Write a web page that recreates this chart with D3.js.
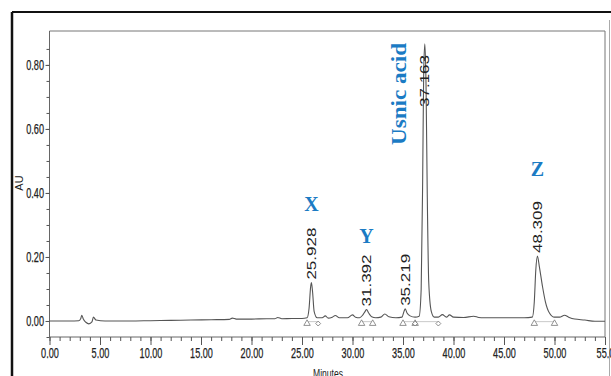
<!DOCTYPE html>
<html>
<head>
<meta charset="utf-8">
<script src="https://cdn.jsdelivr.net/npm/d3@7"></script>
<style>
  body { margin: 0; background: #fff; }
  .tick text { font-family: "Liberation Sans", Arial, sans-serif; font-size: 14px; fill: #222; stroke: #222; stroke-width: 0.25px; }
  .domain { stroke: #666; }
</style>
</head>
<body>
<div class="chart"></div>
<script>
var svgWidth = 611;
var svgHeight = 376;

// chromatogram trace (minutes, AU)
var times = [0, 1, 2, 2.9, 3.1, 3.2, 3.35, 3.6, 3.9, 4.2, 4.35, 4.6, 5.5, 8, 10, 12, 14, 16,
  17.8, 18.1, 18.5, 20, 21.5, 22.3, 22.6, 23, 24, 25, 25.5, 25.7, 25.85, 25.93, 26.05, 26.2,
  26.5, 27, 27.3, 27.6, 28, 28.3, 28.7, 29.5, 30.0, 30.3, 30.7, 31.0, 31.25, 31.39, 31.6, 31.9,
  32.3, 32.8, 33.2, 33.6, 34.3, 34.9, 35.1, 35.22, 35.4, 35.7, 36.2, 36.6, 36.8, 36.95, 37.05,
  37.163, 37.28, 37.4, 37.55, 37.8, 38.1, 38.5, 38.9, 39.3, 39.6, 40, 41, 42, 42.5, 43, 45, 47,
  47.8, 48.0, 48.15, 48.309, 48.5, 48.8, 49.1, 49.5, 50, 50.5, 51, 51.4, 52, 53, 54, 55];
var au = [0.000, 0.000, 0.000, 0.001, 0.008, 0.018, 0.006, -0.004, -0.009, -0.003, 0.012, 0.003, 0.000, 0.000, 0.001, 0.002, 0.003, 0.004,
  0.005, 0.009, 0.006, 0.006, 0.007, 0.007, 0.011, 0.007, 0.008, 0.008, 0.010, 0.040, 0.105, 0.120, 0.090, 0.030,
  0.010, 0.010, 0.016, 0.009, 0.012, 0.017, 0.010, 0.010, 0.019, 0.012, 0.010, 0.018, 0.030, 0.036, 0.025, 0.013,
  0.010, 0.012, 0.022, 0.013, 0.010, 0.012, 0.030, 0.038, 0.025, 0.016, 0.012, 0.015, 0.100, 0.450, 0.780,
  0.866, 0.740, 0.400, 0.120, 0.030, 0.012, 0.012, 0.020, 0.012, 0.019, 0.012, 0.011, 0.015, 0.011, 0.010, 0.010, 0.010,
  0.012, 0.060, 0.160, 0.203, 0.170, 0.110, 0.060, 0.025, 0.012, 0.012, 0.018, 0.012, 0.006, 0.003, -0.001, -0.001];

// retention-time labels
var peakTimes = [25.928, 31.392, 35.219, 37.163, 48.309];
var peakHeights = [0.120, 0.036, 0.038, 0.866, 0.203];
var peakLabels = ["25.928", "31.392", "35.219", "37.163", "48.309"];

// compound names
var compoundNames = ["X", "Y", "Usnic acid", "Z"];
var compoundTimes = [25.928, 31.392, 37.163, 48.309];

// integration marks
var triangleTimes = [25.5, 30.9, 32.0, 35.0, 36.2, 48.0, 50.0];
var diamondTimes = [26.6, 36.2, 38.5];
var baselinePairs = [[25.5, 26.6], [30.9, 32.0], [35.0, 36.2], [36.2, 38.5], [48.0, 50.0]];

var xTicks = [0, 5, 10, 15, 20, 25, 30, 35, 40, 45, 50, 55];
var yTicks = [0, 0.2, 0.4, 0.6, 0.8];

var plotL = 49.5, plotR = 605, plotT = 31, plotB = 337;

// narrow look for the instrument's condensed font
function narrowLen(s) {
  return s.split("").reduce((a, c) => a + (c === "." ? 2.8 : 5.0), 0);
}

var svg = d3.select(".chart")
  .append("svg")
  .attr("width", svgWidth)
  .attr("height", svgHeight);

// outer frame
svg.append("line").attr("x1", 12).attr("x2", 611).attr("y1", 12).attr("y2", 12)
  .attr("stroke", "#111").attr("stroke-width", 2);
svg.append("line").attr("x1", 12).attr("x2", 12).attr("y1", 12).attr("y2", 376)
  .attr("stroke", "#111").attr("stroke-width", 2.5);
svg.append("line").attr("x1", 609.5).attr("x2", 609.5).attr("y1", 20).attr("y2", 376)
  .attr("stroke", "#aaa").attr("stroke-width", 1);

var x = d3.scaleLinear().domain([0, 55]).range([plotL, plotR]);
var y = d3.scaleLinear().domain([-0.05, 0.906]).range([plotB, plotT]);

// plot box top / right
svg.append("path")
  .attr("d", `M${plotL},${plotT}H${plotR}V${plotB}`)
  .attr("fill", "none").attr("stroke", "#777");

// axes
var xAxis = svg.append("g")
  .attr("transform", `translate(0,${plotB})`)
  .call(d3.axisBottom(x).tickValues(xTicks).tickSize(8).tickPadding(3)
    .tickFormat(d => d === 55 ? "55.0" : d3.format(".2f")(d)));
svg.append("g")
  .attr("transform", `translate(0,${plotB})`)
  .call(d3.axisBottom(x).tickValues(d3.range(0, 56, 1)).tickSize(4).tickFormat(""))
  .call(g => g.select(".domain").remove());

var yAxis = svg.append("g")
  .attr("transform", `translate(${plotL},0)`)
  .call(d3.axisLeft(y).tickValues(yTicks).tickSize(4).tickPadding(1.5).tickFormat(d3.format(".2f")));
svg.append("g")
  .attr("transform", `translate(${plotL},0)`)
  .call(d3.axisLeft(y).tickValues(d3.range(-0.05, 0.9, 0.05)).tickSize(3).tickFormat(""))
  .call(g => g.select(".domain").remove());
yAxis.select(".domain").attr("d", `M0,${plotT}V${plotB}`);
xAxis.select(".domain").attr("d", `M${plotL},0H${plotR}`);
svg.selectAll(".tick line").attr("stroke", "#555");
svg.selectAll(".tick text")
  .attr("textLength", function () { return narrowLen(d3.select(this).text()); })
  .attr("lengthAdjust", "spacingAndGlyphs");

// axis titles
svg.append("text")
  .attr("transform", "translate(23,183) rotate(-90)")
  .attr("text-anchor", "middle")
  .style("font-family", "Liberation Sans, Arial, sans-serif")
  .style("font-size", "11px")
  .attr("fill", "#222")
  .text("AU");

svg.append("text")
  .attr("x", 328).attr("y", 378)
  .attr("text-anchor", "middle")
  .attr("textLength", 30)
  .attr("lengthAdjust", "spacingAndGlyphs")
  .style("font-family", "Liberation Sans, Arial, sans-serif")
  .style("font-size", "12.5px")
  .attr("fill", "#222")
  .text("Minutes");

// integration baselines
svg.selectAll(".ibase")
  .data(baselinePairs)
  .enter()
  .append("line")
  .attr("x1", d => x(d[0])).attr("x2", d => x(d[1]))
  .attr("y1", y(-0.002)).attr("y2", y(-0.002))
  .attr("stroke", "#bbb").attr("stroke-width", 0.8);

// trace
var pts = times.map((t, i) => [t, au[i]]);
svg.append("path")
  .datum(pts)
  .attr("fill", "none")
  .attr("stroke", "#555")
  .attr("stroke-width", 1.1)
  .attr("d", d3.line().x(d => x(d[0])).y(d => y(d[1])).curve(d3.curveMonotoneX));

// markers
svg.selectAll(".tri")
  .data(triangleTimes)
  .enter()
  .append("path")
  .attr("transform", d => `translate(${x(d)},${y(-0.008)})`)
  .attr("d", d3.symbol(d3.symbolTriangle, 18)())
  .attr("fill", "#fff").attr("stroke", "#777").attr("stroke-width", 0.8);

svg.selectAll(".dia")
  .data(diamondTimes)
  .enter()
  .append("path")
  .attr("transform", d => `translate(${x(d)},${y(-0.008)}) rotate(45)`)
  .attr("d", d3.symbol(d3.symbolSquare, 12)())
  .attr("fill", "#fff").attr("stroke", "#777").attr("stroke-width", 0.8);

// retention time labels
svg.selectAll(".rt")
  .data(peakLabels)
  .enter()
  .append("text")
  .attr("transform", function (d, i) {
    var by = Math.max(y(peakHeights[i]) - 3, plotT + 76);
    return `translate(${x(peakTimes[i]) + 4.5},${by}) rotate(-90)`;
  })
  .attr("textLength", 52)
  .attr("lengthAdjust", "spacingAndGlyphs")
  .style("font-family", "Liberation Sans, Arial, sans-serif")
  .style("font-size", "13px")
  .attr("fill", "#222")
  .text(d => d);

// compound names
var nameOffsets = [-72, -66, 0, -80];
svg.selectAll(".cname")
  .data(compoundNames)
  .enter()
  .append("text")
  .attr("transform", function (d, i) {
    if (d === "Usnic acid") return `translate(${x(compoundTimes[i]) - 19},145) rotate(-90)`;
    var py = y(peakHeights[peakTimes.indexOf(compoundTimes[i])]);
    return `translate(${x(compoundTimes[i])},${py + nameOffsets[i]})`;
  })
  .attr("text-anchor", d => d === "Usnic acid" ? "start" : "middle")
  .attr("textLength", d => d === "Usnic acid" ? 102 : null)
  .attr("lengthAdjust", "spacingAndGlyphs")
  .style("font-family", "Liberation Serif, Cambria, serif")
  .style("font-weight", "bold")
  .style("font-size", "20px")
  .attr("fill", "#1b7bc4")
  .text(d => d);
</script>
</body>
</html>
